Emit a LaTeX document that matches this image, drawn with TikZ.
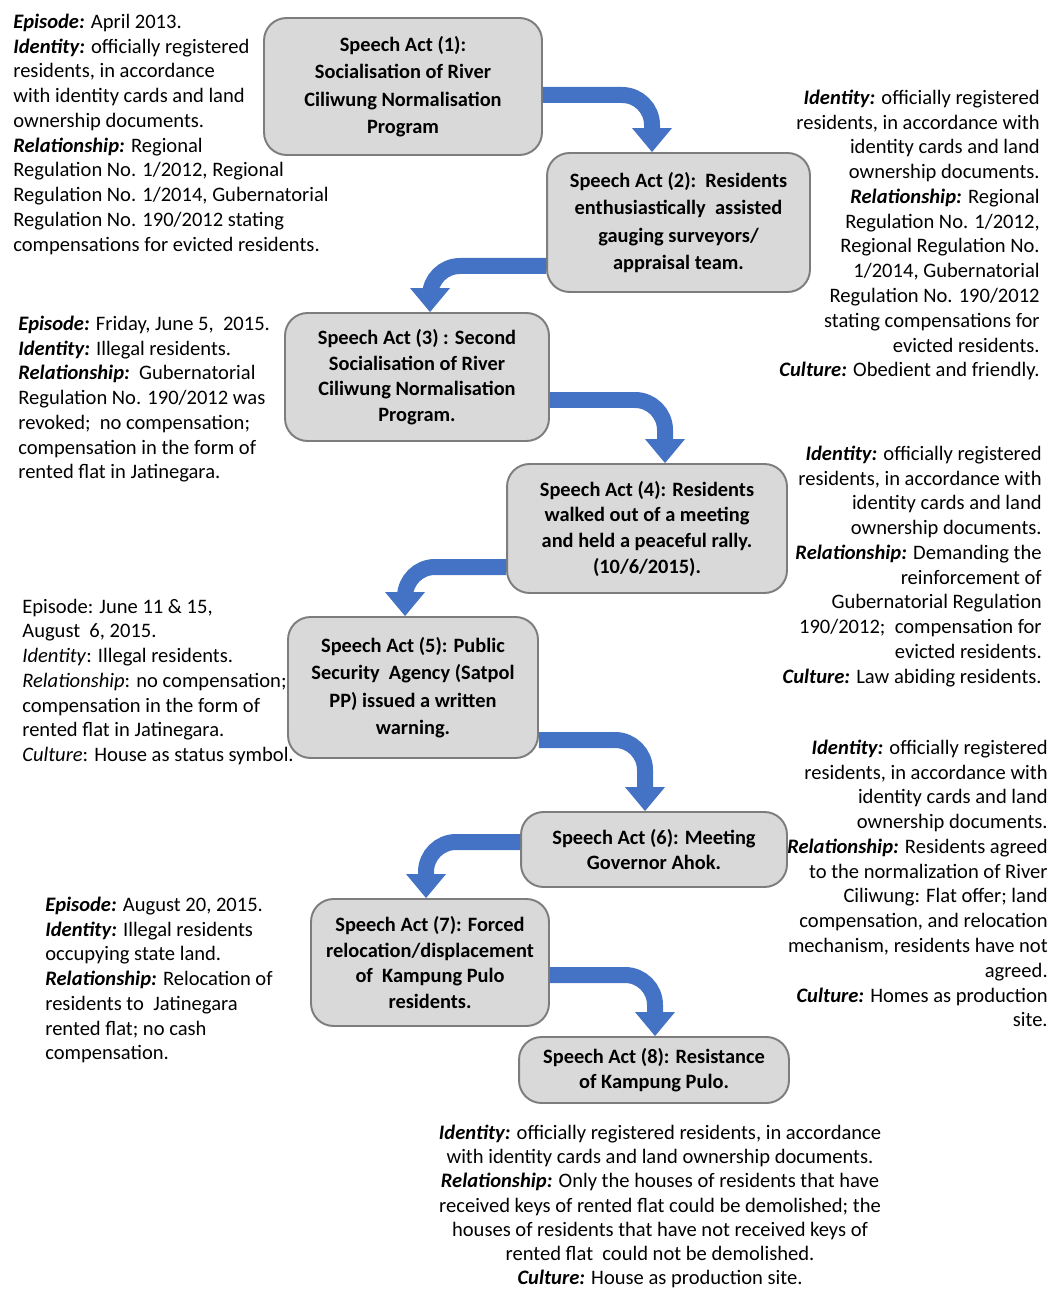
\documentclass[tikz,border=0pt]{standalone}
\usepackage{fontspec}
\setmainfont{Carlito}
\usepackage{xcolor}
\usepackage{tikz}
\usetikzlibrary{calc,arrows.meta}

\definecolor{actgray}{RGB}{217,217,217}
\definecolor{actline}{RGB}{125,125,125}
\definecolor{flowblue}{RGB}{68,114,196}

\newcommand{\fld}[1]{\textbf{\textit{#1}}}

\tikzset{
act/.style={draw=actline, line width=1.1pt, fill=actgray, rounded corners=0.45cm,
  align=center, inner sep=0pt, font=\fontsize{11.6}{14.6}\selectfont\bfseries},
wide/.style={font=\fontsize{11.6}{15.6}\selectfont\bfseries},
flow/.style={draw=flowblue, line width=0.32cm, rounded corners=0.6cm,
  -{Triangle[width=0.8cm,length=0.48cm,line width=0pt]}},
notel/.style={align=left, anchor=north west, inner sep=0pt, font=\fontsize{11.7}{14.1}\selectfont},
noter/.style={align=right, anchor=north east, inner sep=0pt, font=\fontsize{11.7}{14.1}\selectfont},
notec/.style={align=center, anchor=north, inner sep=0pt, font=\fontsize{11.7}{13.7}\selectfont}
}

\begin{document}
\begin{tikzpicture}[x=0.02cm,y=-0.02cm]
\useasboundingbox (0,0) rectangle (1051,1290);

% speech acts
\node[act, wide, minimum width=5.56cm, minimum height=2.74cm] (b1) at (403,86.5)
  {Speech Act (1):\\ Socialisation of River\\ Ciliwung Normalisation\\ Program};
\node[act, wide, minimum width=5.26cm, minimum height=2.78cm] (b2) at (678.5,222.5)
  {Speech Act (2):\ \ Residents\\ enthusiastically\ \ assisted\\ gauging surveyors/\\ appraisal team.};
\node[act, minimum width=5.28cm, minimum height=2.56cm] (b3) at (417,377)
  {Speech Act (3) : Second\\ Socialisation of River\\ Ciliwung Normalisation\\ Program.};
\node[act, minimum width=5.6cm, minimum height=2.58cm] (b4) at (647,528.5)
  {Speech Act (4): Residents\\ walked out of a meeting\\ and held a peaceful rally.\\ (10/6/2015).};
\node[act, wide, minimum width=5.0cm, minimum height=2.82cm] (b5) at (413,687.5)
  {Speech Act (5): Public\\ Security\ \ Agency (Satpol\\ PP) issued a written\\ warning.};
\node[act, minimum width=5.32cm, minimum height=1.5cm] (b6) at (654,849.5)
  {Speech Act (6): Meeting\\ Governor Ahok.};
\node[act, minimum width=4.76cm, minimum height=2.54cm] (b7) at (430,962.5)
  {Speech Act (7): Forced\\ relocation/displacement\\ of\ \ Kampung Pulo\\ residents.};
\node[act, minimum width=5.4cm, minimum height=1.32cm] (b8) at (654,1070)
  {Speech Act (8): Resistance\\ of Kampung Pulo.};

% bent arrows
\draw[flow] ($(b1.east)+(0,8.5)$) -| ($(b2.north)+(-26.5,0)$);
\draw[flow] ($(b2.west)+(0,43.5)$) -| ($(b3.north)+(13,0)$);
\draw[flow] ($(b3.east)+(0,23)$) -| ($(b4.north)+(18,0)$);
\draw[flow] ($(b4.west)+(0,38.5)$) -| ($(b5.north)+(-8,0)$);
\draw[flow] ($(b5.east)+(0,52.5)$) -| ($(b6.north)+(-9,0)$);
\draw[flow] ($(b6.west)+(0,-7.5)$) -| ($(b7.north)+(-4,0)$);
\draw[flow] ($(b7.east)+(0,12.5)$) -| ($(b8.north)+(1,0)$);

% notes
\node[notel] (n1) at (13,13.5) {\fld{Episode:} April 2013.\\
\fld{Identity:} officially registered\\
residents, in accordance\\
with identity cards and land\\
ownership documents.\\
\fld{Relationship:} Regional\\
Regulation No. 1/2012, Regional\\
Regulation No. 1/2014, Gubernatorial\\
Regulation No. 190/2012 stating\\
compensations for evicted residents.};

\node[noter] (n2) at (1040,89.5) {\fld{Identity:} officially registered\\
residents, in accordance with\\
identity cards and land\\
ownership documents.\\
\fld{Relationship:} Regional\\
Regulation No. 1/2012,\\
Regional Regulation No.\\
1/2014, Gubernatorial\\
Regulation No. 190/2012\\
stating compensations for\\
evicted residents.\\
\fld{Culture:} Obedient and friendly.};

\node[notel] (n3) at (18,315.5) {\fld{Episode:} Friday, June 5,\ \ 2015.\\
\fld{Identity:} Illegal residents.\\
\fld{Relationship:}\ \ Gubernatorial\\
Regulation No. 190/2012 was\\
revoked;\ \ no compensation;\\
compensation in the form of\\
rented flat in Jatinegara.};

\node[noter] (n4) at (1042,445.5) {\fld{Identity:} officially registered\\
residents, in accordance with\\
identity cards and land\\
ownership documents.\\
\fld{Relationship:} Demanding the\\
reinforcement of\\
Gubernatorial Regulation\\
190/2012;\ \ compensation for\\
evicted residents.\\
\fld{Culture:} Law abiding residents.};

\node[notel] (n5) at (22,598.5) {Episode: June 11 \& 15,\\
August\ \ 6, 2015.\\
\textit{Identity}: Illegal residents.\\
\textit{Relationship}: no compensation;\\
compensation in the form of\\
rented flat in Jatinegara.\\
\textit{Culture}: House as status symbol.};

\node[noter] (n6) at (1048,739.5) {\fld{Identity:} officially registered\\
residents, in accordance with\\
identity cards and land\\
ownership documents.\\
\fld{Relationship:} Residents agreed\\
to the normalization of River\\
Ciliwung: Flat offer; land\\
compensation, and relocation\\
mechanism, residents have not\\
agreed.\\
\fld{Culture:} Homes as production\\
site.};

\node[notel] (n7) at (45,896.5) {\fld{Episode:} August 20, 2015.\\
\fld{Identity:} Illegal residents\\
occupying state land.\\
\fld{Relationship:} Relocation of\\
residents to\ \ Jatinegara\\
rented flat; no cash\\
compensation.};

\node[notec] (n8) at (660,1125) {\fld{Identity:} officially registered residents, in accordance\\
with identity cards and land ownership documents.\\
\fld{Relationship:} Only the houses of residents that have\\
received keys of rented flat could be demolished; the\\
houses of residents that have not received keys of\\
rented flat\ \ could not be demolished.\\
\fld{Culture:} House as production site.};
\end{tikzpicture}
\end{document}
